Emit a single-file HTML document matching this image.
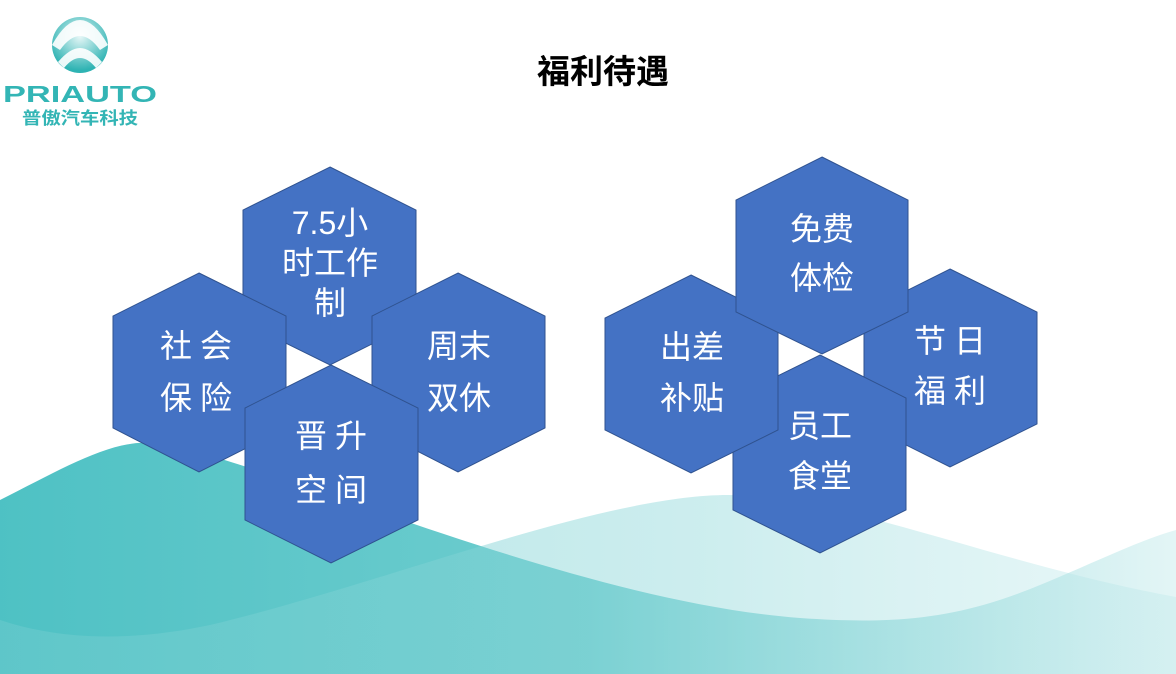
<!DOCTYPE html>
<html><head><meta charset="utf-8">
<style>
html,body{margin:0;padding:0;background:#fff;}
body{width:1176px;height:674px;overflow:hidden;position:relative;font-family:"Liberation Sans","Noto Sans CJK SC",sans-serif;}
svg{position:absolute;left:0;top:0;}
</style></head>
<body>
<svg width="1176" height="674" viewBox="0 0 1176 674" xmlns="http://www.w3.org/2000/svg">
<defs>
<linearGradient id="g1" x1="0" y1="0" x2="1" y2="0">
<stop offset="0" stop-color="#45bec1" stop-opacity="0.95"/>
<stop offset="0.5" stop-color="#55c4c6" stop-opacity="0.85"/>
<stop offset="1" stop-color="#8fd8da" stop-opacity="0.25"/>
</linearGradient>
<linearGradient id="g2" x1="0" y1="0" x2="1" y2="0">
<stop offset="0" stop-color="#6ccbcd" stop-opacity="0.55"/>
<stop offset="0.6" stop-color="#8fd8da" stop-opacity="0.45"/>
<stop offset="1" stop-color="#b5e5e7" stop-opacity="0.3"/>
</linearGradient>
<radialGradient id="lg" cx="0.5" cy="0.35" r="0.6">
<stop offset="0" stop-color="#e6f7f7"/>
<stop offset="1" stop-color="#2fb3b3"/>
</radialGradient>
</defs>
<path d="M0,500 C60,470 110,440 150,443 C240,448 560,600 800,618 C900,625 960,618 1040,585 C1100,560 1140,540 1176,530 L1176,674 L0,674 Z" fill="url(#g1)"/>
<path d="M0,620 C60,640 130,642 210,625 C380,585 600,495 728,495 C840,495 1000,565 1176,597 L1176,674 L0,674 Z" fill="url(#g2)"/>

<circle cx="80" cy="45" r="28" fill="url(#lg)"/>
<path d="M52,45 Q66,20 80,20 Q94,20 108,45 L100,50 Q90,36 80,36 Q70,36 60,50 Z" fill="#fff" opacity="0.9"/>
<path d="M58,62 Q70,48 80,48 Q90,48 102,62 L96,68 Q88,58 80,58 Q72,58 64,68 Z" fill="#fff" opacity="0.9"/>
<text x="3" y="102" textLength="154" lengthAdjust="spacingAndGlyphs" font-family="Liberation Sans,sans-serif" font-weight="bold" font-size="23" fill="#33b5b5">PRIAUTO</text>
<text x="22" y="124" textLength="116" lengthAdjust="spacingAndGlyphs" font-family="Liberation Sans,'Noto Sans CJK SC',sans-serif" font-weight="bold" font-size="17" fill="#33b5b5">普傲汽车科技</text>

<text x="603" y="83" text-anchor="middle" font-family="Liberation Sans,'Noto Sans CJK SC',sans-serif" font-weight="bold" font-size="33" fill="#000">福利待遇</text>

<g fill="#4472c4" stroke="#2f528f" stroke-width="1">
<polygon points="330,167 416,210 416,322 330,365 243,322 243,210"/>
<polygon points="199,273 286,316 286,428 199,472 113,428 113,316"/>
<polygon points="458,273 545,316 545,428 458,472 372,428 372,316"/>
<polygon points="331,365 418,408 418,520 331,563 245,520 245,408"/>
<polygon points="950,269 1037,312 1037,424 950,467 864,424 864,312"/>
<polygon points="820,355 906,398 906,510 820,553 733,510 733,398"/>
<polygon points="691,275 778,318 778,430 691,473 605,430 605,318"/>
<polygon points="822,157 908,200 908,312 822,354 736,312 736,200"/>
</g>

<g fill="#fff" font-family="Liberation Sans,'Noto Sans CJK SC',sans-serif" font-size="32" text-anchor="middle">
<text x="330" y="234">7.5小</text>
<text x="330" y="274">时工作</text>
<text x="330" y="314">制</text>
<text x="200" y="357" letter-spacing="8">社会</text>
<text x="200" y="409" letter-spacing="8">保险</text>
<text x="459" y="357">周末</text>
<text x="459" y="409">双休</text>
<text x="335" y="447" letter-spacing="8">晋升</text>
<text x="335" y="501" letter-spacing="8">空间</text>
<text x="822" y="240">免费</text>
<text x="822" y="289">体检</text>
<text x="692" y="358">出差</text>
<text x="692" y="409">补贴</text>
<text x="954" y="352" letter-spacing="8">节日</text>
<text x="954" y="402" letter-spacing="8">福利</text>
<text x="820" y="437">员工</text>
<text x="820" y="487">食堂</text>
</g>
</svg>
</body></html>
